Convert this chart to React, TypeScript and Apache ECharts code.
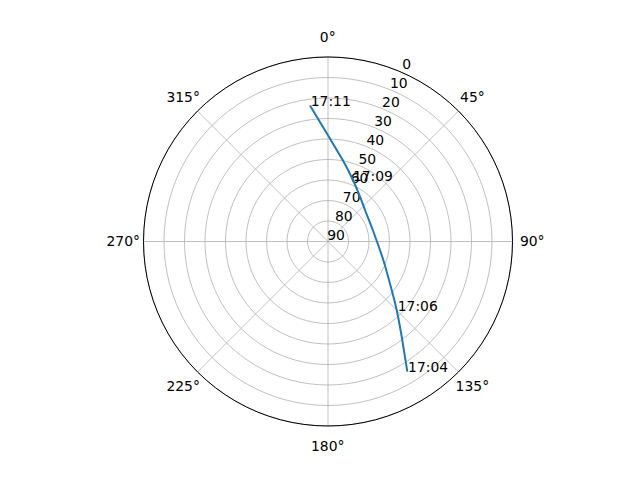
import React, { useEffect, useRef } from "react";
import * as echarts from "echarts";

// Satellite track (azimuth in degrees, elevation in degrees)
const trackAzimuth = [148.65, 142.25, 134.92, 127.28, 108.5, 75.6, 49.6, 35.54, 22.12, 10.22, 0.55, 352.46];
const trackElevation = [15.63, 31.27, 42.68, 50.95, 61.56, 67.44, 66.3, 63.15, 57.62, 49.6, 39.02, 23.08];

// Time annotations
const timeLabels = ["17:04", "17:06", "17:09", "17:11"];
const timeAzimuth = [148.65, 135.0, 21.6, 352.46];
const timeElevation = [15.63, 42.4, 58.0, 23.08];

// Angle tick labels (degrees)
const angleTicks = [0, 45, 90, 135, 180, 225, 270, 315];

const FONT = "DejaVu Sans";
const CENTER = [328, 241.5];
const RADIUS = 184.5;
const LABEL_RADIUS = 204.5;

export default function App() {
  const ref = useRef<HTMLDivElement>(null);
  useEffect(() => {
    if (!ref.current) return;
    const chart = echarts.init(ref.current, undefined, { renderer: "svg" });
    const trackData = trackElevation.map((e, i) => [e, trackAzimuth[i]]);
    const labelData = timeLabels.map((t, i) => ({ name: t, value: [timeElevation[i], timeAzimuth[i]] }));
    const angleLabelData = angleTicks.map((a) => ({ name: a + "°", value: [1, a] }));
    chart.setOption({
      animation: false,
      backgroundColor: "#ffffff",
      polar: [
        { center: CENTER, radius: RADIUS },
        { center: CENTER, radius: RADIUS },
        { center: CENTER, radius: LABEL_RADIUS },
      ],
      angleAxis: [
        {
          polarIndex: 0,
          type: "value",
          min: 0,
          max: 360,
          interval: 45,
          startAngle: 90,
          clockwise: true,
          axisLine: { show: true, lineStyle: { color: "#000000", width: 1 } },
          axisTick: { show: false },
          splitLine: { show: true, lineStyle: { color: "#b0b0b0", width: 0.8 } },
          axisLabel: { show: false },
        },
        {
          polarIndex: 1,
          type: "value",
          min: 0,
          max: 360,
          startAngle: 67.5,
          clockwise: true,
          show: false,
        },
        {
          polarIndex: 2,
          type: "value",
          min: 0,
          max: 360,
          startAngle: 90,
          clockwise: true,
          show: false,
        },
      ],
      radiusAxis: [
        {
          polarIndex: 0,
          type: "value",
          min: 0,
          max: 90,
          interval: 10,
          inverse: true,
          axisLine: { show: false },
          axisTick: { show: false },
          axisLabel: { show: false },
          splitLine: { show: true, lineStyle: { color: "#b0b0b0", width: 0.8 } },
        },
        {
          polarIndex: 1,
          type: "value",
          min: 0,
          max: 90,
          interval: 10,
          inverse: true,
          axisLine: { show: false },
          axisTick: { show: false },
          splitLine: { show: false },
          axisLabel: {
            show: true,
            color: "#000000",
            fontFamily: FONT,
            fontSize: 13.9,
            margin: 0,
            align: "center",
            verticalAlign: "bottom",
            padding: [0, 0, 0, 16],
          },
        },
        {
          polarIndex: 2,
          type: "value",
          min: 0,
          max: 1,
          show: false,
        },
      ],
      series: [
        {
          type: "line",
          coordinateSystem: "polar",
          polarIndex: 0,
          data: trackData,
          showSymbol: false,
          symbol: "none",
          smooth: 0.2,
          lineStyle: { color: "#1f77b4", width: 2 },
          z: 5,
        },
        {
          type: "scatter",
          coordinateSystem: "polar",
          polarIndex: 0,
          data: labelData,
          symbol: "circle",
          symbolSize: 0.5,
          itemStyle: { color: "#1f77b4", opacity: 1 },
          label: {
            show: true,
            formatter: (p: any) => p.name,
            position: [0, 0],
            align: "left",
            verticalAlign: "bottom",
            offset: [1, 3],
            color: "#000000",
            textBorderWidth: 0,
            textBorderColor: "transparent",
            fontFamily: FONT,
            fontSize: 13.9,
          },
          z: 6,
        },
        {
          type: "scatter",
          coordinateSystem: "polar",
          polarIndex: 2,
          data: angleLabelData,
          symbol: "circle",
          symbolSize: 0.5,
          silent: true,
          itemStyle: { color: "rgba(0,0,0,0)", opacity: 1 },
          label: {
            show: true,
            formatter: (p: any) => p.name,
            position: [0, 0],
            align: "center",
            verticalAlign: "middle",
            color: "#000000",
            textBorderWidth: 0,
            textBorderColor: "transparent",
            fontFamily: FONT,
            fontSize: 13.9,
          },
          z: 6,
        },
      ],
    });
    return () => chart.dispose();
  }, []);
  return (
    <div
      ref={ref}
      style={{ position: "fixed", left: 0, top: 0, width: 640, height: 480, background: "#fff" }}
    />
  );
}
